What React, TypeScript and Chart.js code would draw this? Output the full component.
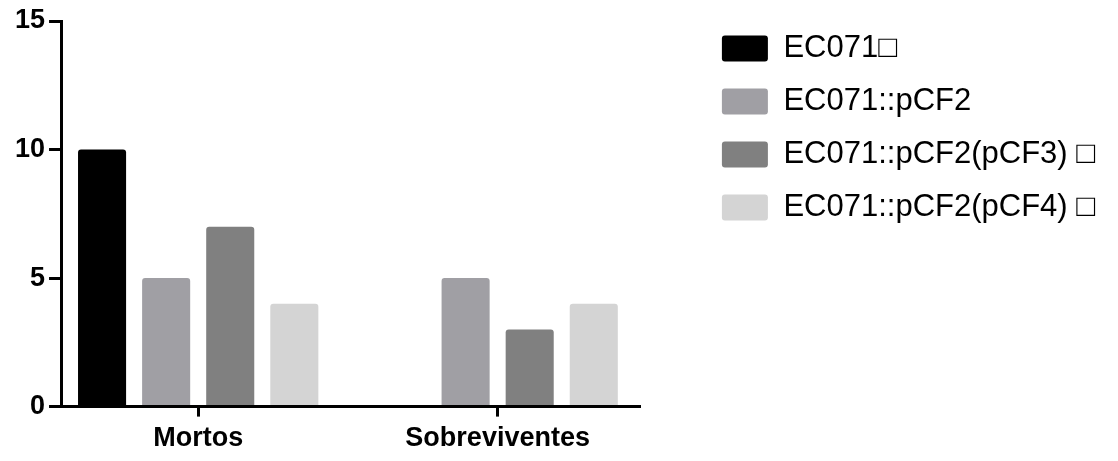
import React, { useEffect, useRef } from 'react';
import { Chart, registerables } from 'chart.js';

Chart.register(...registerables);

const categories = ['Mortos', 'Sobreviventes'];
const seriesLabels = ['EC071□', 'EC071::pCF2', 'EC071::pCF2(pCF3) □', 'EC071::pCF2(pCF4) □'];
const ec071 = [10, 0];
const ec071pCF2 = [5, 5];
const ec071pCF2pCF3 = [7, 3];
const ec071pCF2pCF4 = [4, 4];
const yTicks = [0, 5, 10, 15];
const seriesColors = ['#000000', '#a09fa4', '#808080', '#d4d4d4'];

const FONT = "'Liberation Sans', Arial, Helvetica, sans-serif";

export default function App() {
  const ref = useRef<HTMLCanvasElement | null>(null);

  useEffect(() => {
    if (!ref.current) return;
    const series = [ec071, ec071pCF2, ec071pCF2pCF3, ec071pCF2pCF4];
    const chart = new Chart(ref.current, {
      type: 'bar',
      data: {
        datasets: series.map((vals, k) => ({
          label: seriesLabels[k],
          data: vals.map((v, i) => ({ x: i, y: v })),
          backgroundColor: seriesColors[k],
          borderWidth: 0,
          borderRadius: 3,
          categoryPercentage: 0.856,
          barPercentage: 0.75,
        })),
      },
      options: {
        animation: false,
        responsive: true,
        maintainAspectRatio: false,
        layout: { padding: { left: 11, top: 11, right: 13, bottom: 0 } },
        plugins: {
          tooltip: { enabled: false },
          legend: {
            position: 'right',
            align: 'start',
            maxWidth: 500,
            labels: {
              boxWidth: 46,
              boxHeight: 26,
              padding: 22,
              color: '#000',
              useBorderRadius: true,
              borderRadius: 3,
              font: { family: FONT, size: 31 },
            },
          },
        },
        scales: {
          x: {
            type: 'linear',
            offset: false,
            min: -0.458,
            max: 1.475,
            afterBuildTicks: (s: any) => {
              s.ticks = categories.map((_, i) => ({ value: i }));
            },
            ticks: {
              color: '#000',
              padding: 6,
              font: { family: FONT, size: 27, weight: 'bold' },
              callback: (v: any) => categories[v as number] ?? '',
            },
            grid: {
              display: true,
              offset: false,
              drawOnChartArea: false,
              drawTicks: true,
              tickLength: 10,
              color: '#000',
              lineWidth: 3,
            },
            border: { display: true, color: '#000', width: 3 },
          },
          y: {
            min: 0,
            max: 15,
            afterBuildTicks: (s: any) => {
              s.ticks = yTicks.map((v) => ({ value: v }));
            },
            ticks: {
              color: '#000',
              padding: 4,
              font: { family: FONT, size: 27, weight: 'bold', lineHeight: 1.26 },
            },
            grid: {
              display: true,
              drawOnChartArea: false,
              drawTicks: true,
              tickLength: 12,
              color: '#000',
              lineWidth: 3,
            },
            border: { display: true, color: '#000', width: 3 },
          },
          spacer: {
            type: 'linear',
            position: 'right',
            display: true,
            afterFit: (s: any) => {
              s.width = 60;
            },
            ticks: { display: false },
            grid: { display: false, drawTicks: false },
            border: { display: false },
          },
        },
      },
    } as any);
    return () => chart.destroy();
  }, []);

  return (
    <div style={{ position: 'fixed', left: 0, top: 0, width: 1118, height: 461, background: '#fff' }}>
      <canvas ref={ref} />
    </div>
  );
}
